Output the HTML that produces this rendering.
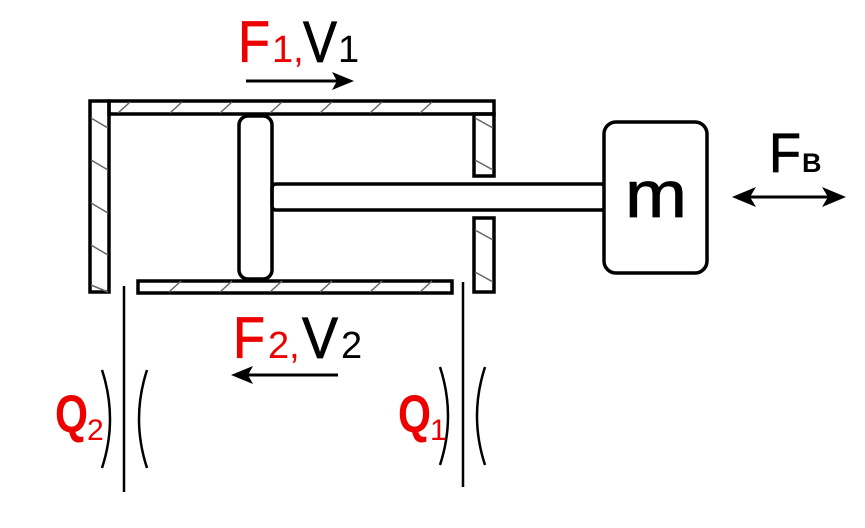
<!DOCTYPE html>
<html><head><style>body{margin:0;background:#fff}svg{display:block}</style></head><body>
<svg width="865" height="528" viewBox="0 0 865 528" xmlns="http://www.w3.org/2000/svg" font-family="Liberation Sans, sans-serif">
<g fill="none" stroke="#000" stroke-width="3.5">
<rect x="90" y="101" width="19" height="191"/>
<rect x="109" y="101" width="385" height="13"/>
<rect x="474" y="114" width="20" height="62"/>
<rect x="474" y="218" width="20" height="74"/>
<rect x="138" y="281" width="314" height="12"/>
<rect x="239" y="116" width="33" height="163" rx="9"/>
<rect x="272" y="184" width="333" height="26" rx="4"/>
<rect x="604" y="122" width="103" height="151" rx="12" fill="#fff"/>
</g>
<g stroke="#666" stroke-width="1.5">
<path d="M118 113l12-11M170 113l12-11M220 113l12-11M270 113l12-11M320 113l12-11M370 113l12-11M420 113l12-11"/>
<path d="M169 292l12-11M220 292l12-11M270 292l12-11M320 292l12-11M370 292l12-11M420 292l12-11"/>
<path d="M91 118l17 10M91 160l17 10M91 203l17 10M91 245l17 10M91 285l17 7"/>
<path d="M475 118l18 10M475 160l18 10M475 230l18 10M475 272l18 10"/>
</g>
<g stroke="#000" stroke-width="2.5" fill="none">
<line x1="124" y1="286" x2="124" y2="492"/>
<line x1="463" y1="282" x2="463" y2="487"/>
<path d="M102 370 Q118 419 102 468"/>
<path d="M147 370 Q131 419 147 468"/>
<path d="M440 367 Q456 416 440 465"/>
<path d="M485 367 Q469 416 485 465"/>
<line x1="246" y1="81" x2="340" y2="81" stroke-width="3"/>
<line x1="245" y1="375" x2="338" y2="375" stroke-width="3"/>
<line x1="745" y1="197" x2="832" y2="197" stroke-width="3"/>
</g>
<g fill="#000">
<path d="M354 81 L332 72 L337 81 L332 90 Z"/>
<path d="M231 375 L253 366 L248 375 L253 384 Z"/>
<path d="M732 197 L756 187 L750 197 L756 207 Z"/>
<path d="M846 197 L822 187 L828 197 L822 207 Z"/>
</g>
<g stroke-width="0.8">
<text x="238" y="62" font-size="58" fill="#e00" stroke="#e00" textLength="32" lengthAdjust="spacingAndGlyphs">F</text>
<text x="272" y="62" font-size="38" fill="#e00">1,</text>
<text x="303" y="62" font-size="58" fill="#000" stroke="#000" textLength="34" lengthAdjust="spacingAndGlyphs">V</text>
<text x="338" y="62" font-size="38" fill="#000">1</text>
<text x="233" y="358" font-size="58" fill="#e00" stroke="#e00" textLength="32" lengthAdjust="spacingAndGlyphs">F</text>
<text x="268" y="358" font-size="38" fill="#e00">2,</text>
<text x="302" y="358" font-size="58" fill="#000" stroke="#000" textLength="36" lengthAdjust="spacingAndGlyphs">V</text>
<text x="341" y="358" font-size="38" fill="#000">2</text>
<text x="55" y="432" font-size="53" font-weight="bold" fill="#e00" textLength="33" lengthAdjust="spacingAndGlyphs">Q</text>
<text x="87" y="440" font-size="30" fill="#e00">2</text>
<text x="398" y="432" font-size="53" font-weight="bold" fill="#e00" textLength="33" lengthAdjust="spacingAndGlyphs">Q</text>
<text x="430" y="440" font-size="30" fill="#e00">1</text>
<text x="625" y="217" font-size="66" fill="#000" stroke="#000" textLength="62" lengthAdjust="spacingAndGlyphs">m</text>
<text x="769" y="172" font-size="56" fill="#000" stroke="#000" textLength="32" lengthAdjust="spacingAndGlyphs">F</text>
<text x="802" y="172" font-size="27" font-weight="bold" fill="#000">B</text>
</g>
</svg>
</body></html>
